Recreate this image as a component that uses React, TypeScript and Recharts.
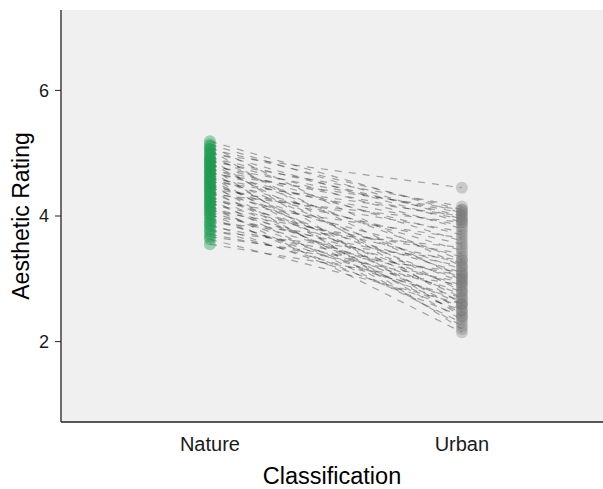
import { ComposedChart, Line, Scatter, XAxis, YAxis, CartesianGrid, Label } from 'recharts';

const categories = ['Nature', 'Urban'];
const yTicks = [2, 4, 6];

// one rating per participant, paired by index
const natureRatings = [
  5.19, 5.14, 5.11, 5.07, 5.06, 5.02, 4.99, 4.97, 4.93, 4.91,
  4.9, 4.87, 4.84, 4.83, 4.8, 4.78, 4.77, 4.74, 4.71, 4.7,
  4.68, 4.66, 4.63, 4.61, 4.6, 4.57, 4.55, 4.52, 4.51, 4.48,
  4.46, 4.44, 4.41, 4.39, 4.37, 4.35, 4.31, 4.3, 4.27, 4.24,
  4.22, 4.2, 4.17, 4.14, 4.12, 4.09, 4.06, 4.03, 4.01, 3.97,
  3.94, 3.9, 3.87, 3.84, 3.79, 3.76, 3.71, 3.67, 3.63, 3.55,
];
const urbanRatings = [
  4.05, 3.95, 3.2, 4.1, 2.6, 3.9, 4.45, 3.0, 4.0, 2.4,
  3.8, 4.15, 2.8, 3.6, 4.05, 2.2, 3.3, 3.95, 2.5, 3.7,
  4.1, 3.05, 2.35, 3.85, 3.45, 2.7, 4.0, 3.15, 2.25, 3.55,
  2.95, 3.75, 2.45, 3.35, 2.85, 3.9, 2.6, 3.1, 2.3, 3.65,
  2.75, 3.25, 2.15, 3.0, 2.55, 3.4, 2.9, 2.4, 3.2, 2.65,
  2.8, 3.5, 2.5, 3.05, 2.7, 3.3, 2.95, 3.1, 2.6, 2.9,
];

const FONT = '"Liberation Sans", Arial, sans-serif';

const lineData = categories.map((_, i) => {
  const row: Record<string, number> = { x: i };
  natureRatings.forEach((n, j) => {
    row[`p${j}`] = i === 0 ? n : urbanRatings[j];
  });
  return row;
});

const naturePoints = natureRatings.map((v) => ({ x: 0, y: v }));
const urbanPoints = urbanRatings.map((v) => ({ x: 1, y: v }));

const dotShape = (fill: string, opacity: number) => (props: any) => (
  <circle cx={props.cx} cy={props.cy} r={6} fill={fill} fillOpacity={opacity} />
);

export default function App() {
  return (
    <div style={{ position: 'absolute', left: 0, top: 0, background: '#fff' }}>
      <ComposedChart
        width={603}
        height={489}
        data={lineData}
        margin={{ top: 10, right: 0, bottom: 0, left: 0 }}
      >
        <CartesianGrid fill="#f0f0f0" horizontal={false} vertical={false} />
        <XAxis
          dataKey="x"
          type="number"
          domain={[-0.591, 1.56]}
          ticks={[0, 1]}
          allowDataOverflow
          tickFormatter={(v: number) => categories[v] ?? ''}
          height={67}
          tickLine={false}
          tickMargin={9}
          axisLine={{ stroke: '#222', strokeWidth: 1.3 }}
          tick={{ fill: '#1a1a1a', fontSize: 20, fontFamily: FONT }}
        >
          <Label
            value="Classification"
            position="insideBottom"
            offset={5}
            style={{ fill: '#000', fontSize: 23.5, fontFamily: FONT }}
          />
        </XAxis>
        <YAxis
          type="number"
          domain={[0.72, 7.28]}
          ticks={yTicks}
          allowDataOverflow
          width={61}
          tickSize={6}
          tickMargin={6}
          tickLine={{ stroke: '#222' }}
          axisLine={{ stroke: '#222', strokeWidth: 1.3 }}
          tick={{ fill: '#1a1a1a', fontSize: 18, fontFamily: FONT }}
        >
          <Label
            value="Aesthetic Rating"
            angle={-90}
            position="insideLeft"
            offset={21}
            style={{ fill: '#000', fontSize: 23, fontFamily: FONT, textAnchor: 'middle' }}
          />
        </YAxis>
        {natureRatings.map((_, j) => (
          <Line
            key={j}
            dataKey={`p${j}`}
            stroke="#2a2a2a"
            strokeOpacity={0.4}
            strokeWidth={1.2}
            strokeDasharray="7 7"
            dot={false}
            activeDot={false}
            isAnimationActive={false}
          />
        ))}
        <Scatter
          data={naturePoints}
          dataKey="y"
          shape={dotShape('#1f9a4f', 0.4)}
          isAnimationActive={false}
        />
        <Scatter
          data={urbanPoints}
          dataKey="y"
          shape={dotShape('#7a7a7a', 0.33)}
          isAnimationActive={false}
        />
      </ComposedChart>
    </div>
  );
}
